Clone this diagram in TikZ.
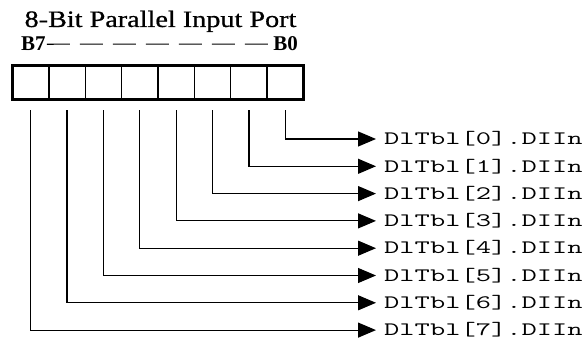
\documentclass[tikz,border=0pt]{standalone}
\usepackage{fontspec}
\setmainfont{Liberation Serif}
\newfontfamily\titlefont[FakeBold=0.6]{Liberation Serif}
\usetikzlibrary{arrows.meta}
\begin{document}
\begin{tikzpicture}[x=1pt,y=-1pt,
  cell/.style={draw,line width=1.4pt,minimum width=36.375pt,minimum height=34pt,inner sep=0,outer sep=0},
  lbl/.style={anchor=west,inner ysep=0,inner xsep=8pt,text height=11.6pt,text depth=0pt,font=\ttfamily\fontsize{19}{19}\selectfont},
  bitlbl/.style={inner sep=0,font=\bfseries\fontsize{21}{21}\selectfont},
  wire/.style={line width=1.2pt,-{Triangle[length=18pt,width=15pt]},shorten <=11pt}]
\useasboundingbox (0,0) rectangle (583,344);
\node[anchor=base,inner sep=0,font=\titlefont\fontsize{23.5}{23.5}\selectfont] (title) at (160.5,27) {\scalebox{1.2}[1]{8-Bit Parallel Input Port}};
\node[bitlbl,anchor=base west] (b7) at (21,51) {B7};
\node[bitlbl,anchor=base east] (b0) at (298,51) {B0};
\draw[line width=1.2pt,dash pattern=on 23pt off 10pt,shorten <=1pt,shorten >=3pt] (b7.east) -- (b0.west);
\foreach \i in {0,...,7}{
  \node[cell] (c\i) at ({303.5-36.375*(\i+0.5)},82.5) {};
  \node[lbl] (t\i) at (376,{139+27.3*\i}) {\scalebox{1.56}[1]{DlTbl[\i].DIIn}};
  \draw[wire] (c\i.south) |- (t\i.west);
}
\draw[line width=3pt] (c7.north west) rectangle (c0.south east);
\end{tikzpicture}
\end{document}
